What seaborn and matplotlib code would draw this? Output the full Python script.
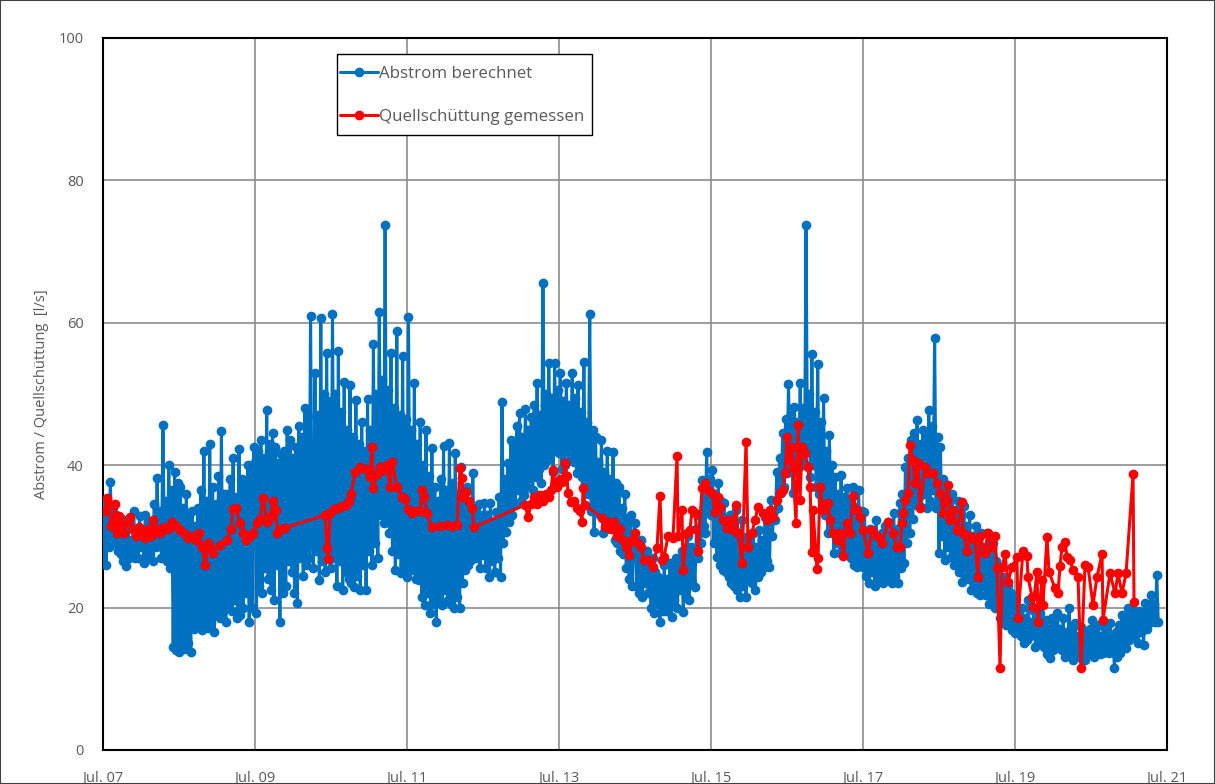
import numpy as np
import matplotlib
matplotlib.use("Agg")
import matplotlib.pyplot as plt
import seaborn as sns
from matplotlib.patches import Rectangle

# Abstrom berechnet: weekly values starting July 2007 (l/s)
abstrom_start = 2007.5
abstrom_per_year = 52
abstrom = [
    # 2007/08
    26.3, 35.0, 26.0, 33.5, 28.5, 37.6, 30.0, 34.0, 29.0, 33.0, 28.0, 31.5, 27.5,
    32.5, 26.5, 30.5, 25.8, 31.0, 27.0, 29.5, 28.0, 33.5, 27.0, 31.0, 27.0, 32.8,
    28.5, 30.5, 26.2, 33.0, 27.0, 32.0, 27.5, 32.0, 26.5, 34.5, 28.5, 38.2, 29.0,
    33.5, 27.0, 45.6, 28.0, 35.0, 26.5, 40.0, 25.5, 36.5, 14.5, 39.0, 14.0, 37.5,
    # 2008/09
    13.8, 37.0, 14.5, 34.0, 14.2, 36.0, 15.0, 33.0, 13.7, 33.5, 17.0, 31.5, 18.0,
    34.0, 17.5, 36.5, 16.8, 42.0, 18.0, 35.0, 17.2, 43.0, 17.8, 37.0, 16.5, 34.5,
    19.0, 38.5, 18.5, 44.8, 19.5, 36.0, 18.0, 36.0, 20.5, 38.0, 19.5, 41.0, 21.0,
    35.5, 18.5, 42.3, 19.0, 38.0, 20.0, 37.5, 22.0, 40.0, 18.0, 39.6, 20.0, 42.5,
    # 2009/10
    40.5, 19.2, 42.0, 23.0, 43.5, 22.0, 41.0, 25.5, 47.8, 24.0, 43.0, 22.5, 44.5,
    21.0, 42.5, 26.0, 40.3, 18.0, 41.5, 22.0, 42.0, 23.0, 45.0, 26.5, 43.5, 25.0,
    41.0, 22.0, 42.5, 20.6, 45.5, 27.0, 44.0, 24.5, 48.0, 26.0, 46.9, 27.0, 61.0,
    30.0, 25.5, 52.9, 28.0, 47.0, 23.9, 60.6, 26.5, 50.0, 25.0, 55.7, 27.0, 49.0,
    # 2010/11
    25.5, 61.3, 27.0, 50.0, 23.0, 56.0, 26.5, 47.5, 22.5, 51.7, 25.0, 45.0, 24.0,
    51.3, 23.5, 44.0, 22.9, 49.2, 24.5, 43.0, 22.5, 46.1, 26.0, 42.0, 22.5, 49.3,
    28.0, 45.0, 26.0, 57.0, 29.0, 50.0, 27.0, 61.5, 33.0, 52.0, 31.9, 73.7, 32.0,
    50.5, 30.5, 55.7, 28.0, 48.0, 25.3, 58.9, 27.5, 47.0, 24.8, 55.3, 26.0, 46.5,
    # 2011/12
    24.3, 60.8, 26.0, 45.0, 25.3, 51.5, 24.0, 43.0, 23.9, 46.0, 21.5, 40.0, 20.4,
    45.0, 22.0, 38.5, 19.2, 42.4, 20.5, 37.0, 18.0, 35.0, 21.0, 38.0, 20.4, 42.7,
    22.5, 36.5, 21.0, 43.1, 20.5, 37.5, 19.9, 41.7, 21.5, 36.0, 19.9, 39.8, 23.5,
    35.0, 25.3, 37.0, 26.0, 33.5, 26.7, 38.9, 27.5, 34.0, 27.0, 34.5, 25.5, 33.0,
    # 2012/13
    27.4, 34.7, 25.5, 33.0, 24.3, 34.7, 26.5, 32.0, 25.0, 33.4, 27.0, 35.5, 24.3,
    48.9, 29.0, 38.0, 30.6, 40.3, 32.0, 43.5, 33.0, 42.4, 34.5, 45.5, 36.5, 47.3,
    35.0, 44.0, 35.8, 47.9, 37.0, 45.0, 38.2, 46.8, 36.5, 48.5, 38.4, 51.5, 39.5,
    47.0, 37.5, 65.6, 40.0, 50.0, 40.7, 54.4, 41.5, 49.5, 39.0, 54.4, 42.0, 50.5,
    # 2013/14
    41.7, 52.9, 39.5, 49.0, 40.0, 51.5, 42.0, 48.5, 41.1, 52.9, 40.5, 49.5, 38.9,
    51.3, 39.0, 47.5, 38.4, 54.5, 37.5, 46.0, 36.0, 61.2, 33.5, 45.0, 30.6, 44.0,
    34.0, 40.5, 33.0, 43.5, 30.5, 39.0, 31.0, 42.0, 32.5, 38.0, 32.0, 41.9, 29.5,
    37.5, 29.0, 36.9, 28.0, 34.0, 27.5, 36.0, 25.5, 32.5, 24.0, 33.0, 23.0, 30.0,
    # 2014/15
    31.9, 23.0, 28.5, 22.0, 29.5, 21.5, 27.5, 23.5, 28.0, 22.0, 25.5, 20.0, 27.0,
    19.2, 25.0, 20.5, 24.3, 18.0, 23.5, 19.5, 26.0, 19.5, 24.0, 20.5, 26.3, 18.7,
    25.5, 21.0, 27.0, 20.0, 26.5, 22.5, 28.0, 19.4, 27.5, 21.5, 30.0, 21.0, 28.5,
    23.5, 27.8, 22.9, 31.0, 27.0, 33.0, 29.0, 37.9, 31.5, 30.5, 41.9, 33.5, 38.0,
    # 2015/16
    33.0, 39.3, 29.0, 36.0, 27.1, 37.5, 26.0, 35.0, 25.3, 34.7, 25.0, 32.0, 24.3,
    33.0, 23.5, 31.5, 23.0, 33.7, 22.5, 30.5, 21.5, 32.3, 23.0, 29.5, 21.5, 30.0,
    24.0, 29.0, 23.4, 30.5, 22.5, 28.5, 24.3, 30.9, 25.0, 29.5, 25.7, 32.7, 26.5,
    31.0, 25.7, 35.1, 30.0, 33.5, 32.3, 39.0, 34.0, 41.0, 36.1, 44.5, 37.0, 46.5,
    # 2016/17
    38.9, 51.4, 40.5, 47.0, 36.1, 48.2, 39.0, 46.0, 39.7, 51.5, 41.0, 48.0, 40.0,
    73.7, 42.0, 50.0, 38.3, 55.6, 40.0, 47.5, 37.0, 54.2, 36.0, 46.0, 35.1, 49.4,
    33.0, 42.0, 30.5, 44.2, 31.5, 40.0, 27.7, 38.3, 29.0, 36.0, 27.7, 38.6, 28.0,
    35.5, 28.5, 36.8, 27.5, 35.0, 27.0, 36.9, 26.0, 34.0, 25.7, 36.5, 26.5, 33.5,
    # 2017/18
    25.7, 33.4, 24.5, 30.5, 23.4, 31.0, 25.0, 29.5, 23.0, 32.3, 24.0, 29.0, 24.3,
    30.5, 23.5, 31.5, 24.3, 32.0, 25.0, 30.0, 23.4, 33.3, 24.5, 31.0, 23.4, 34.7,
    25.5, 36.0, 26.3, 39.7, 29.0, 41.0, 30.5, 43.5, 32.5, 44.5, 34.4, 46.3, 35.5,
    43.0, 34.1, 45.0, 36.0, 44.0, 34.0, 47.8, 35.0, 45.5, 36.5, 57.9, 34.0, 44.0,
    # 2018/19
    27.7, 42.6, 30.0, 38.0, 26.7, 36.5, 28.5, 35.0, 27.1, 36.0, 26.0, 33.5, 26.3,
    35.0, 25.0, 33.0, 23.6, 34.2, 24.5, 31.5, 24.0, 33.0, 22.5, 30.0, 23.0, 31.5,
    22.0, 29.5, 21.8, 30.5, 23.0, 28.5, 21.8, 30.5, 20.5, 28.0, 21.0, 29.0, 20.0,
    26.5, 19.9, 25.7, 18.5, 24.0, 19.0, 24.3, 17.5, 23.0, 18.0, 22.0, 16.8, 21.0,
    # 2019/20
    16.4, 21.0, 17.0, 19.0, 16.0, 20.0, 15.0, 18.5, 15.5, 21.0, 16.0, 18.0, 16.5,
    19.5, 14.5, 18.5, 15.0, 19.2, 15.5, 17.5, 14.5, 18.3, 13.5, 17.0, 12.9, 18.5,
    14.0, 17.5, 14.3, 19.2, 15.0, 17.0, 14.0, 18.5, 13.0, 16.5, 13.6, 20.0, 14.5,
    17.0, 12.6, 17.8, 13.5, 16.0, 13.5, 17.3, 12.8, 16.5, 12.6, 16.5, 13.5, 17.0,
    # 2020/21
    14.0, 18.3, 13.0, 16.5, 14.5, 17.5, 13.5, 16.0, 13.6, 17.3, 14.0, 16.5, 13.6,
    17.8, 14.5, 16.0, 11.5, 16.5, 13.0, 17.5, 13.6, 19.0, 14.5, 18.0, 14.3, 20.0,
    15.5, 18.5, 15.9, 19.7, 16.0, 18.5, 15.0, 19.5, 16.5, 19.0, 14.7, 20.6, 17.0,
    19.5, 17.8, 21.8, 18.5, 20.5, 18.0, 24.6, 18.0,
]

# Quellschüttung gemessen: measurement dates (decimal years) and values (l/s)
quelle_t = [
    2007.526, 2007.553, 2007.579, 2007.605, 2007.632, 2007.658, 2007.684, 2007.711,
    2007.737, 2007.776, 2007.816, 2007.855, 2007.895, 2007.934, 2007.974, 2008.013,
    2008.053, 2008.092, 2008.132, 2008.158, 2008.197, 2008.250, 2008.303, 2008.355,
    2008.408, 2008.461, 2008.513, 2008.566, 2008.618, 2008.671, 2008.724, 2008.763,
    2008.803, 2008.842, 2008.882, 2008.908, 2008.947, 2009.039, 2009.132, 2009.184,
    2009.211, 2009.250, 2009.303, 2009.342, 2009.382, 2009.434, 2009.474, 2009.526,
    2009.566, 2009.605, 2009.658, 2009.697, 2009.737, 2009.776, 2009.789, 2009.842,
    2009.895, 2010.421, 2010.447, 2010.461, 2010.487, 2010.539, 2010.592, 2010.645,
    2010.697, 2010.737, 2010.763, 2010.816, 2010.882, 2010.947, 2011.013, 2011.039,
    2011.053, 2011.105, 2011.145, 2011.184, 2011.237, 2011.276, 2011.303, 2011.368,
    2011.434, 2011.474, 2011.513, 2011.566, 2011.618, 2011.671, 2011.697, 2011.724,
    2011.763, 2011.829, 2011.934, 2012.026, 2012.092, 2012.158, 2012.197, 2012.224,
    2012.237, 2012.276, 2012.316, 2012.355, 2012.382,
    2013.053, 2013.092, 2013.132, 2013.171, 2013.211, 2013.250, 2013.289, 2013.329,
    2013.368, 2013.395, 2013.421, 2013.447, 2013.474, 2013.513, 2013.539, 2013.579,
    2013.605, 2013.618, 2013.658, 2013.697, 2013.737, 2013.776, 2013.803, 2013.816,
    2013.842, 2014.066, 2014.105, 2014.145, 2014.184, 2014.224, 2014.263, 2014.303,
    2014.342, 2014.382, 2014.421, 2014.461, 2014.500, 2014.539, 2014.579, 2014.618,
    2014.671, 2014.737, 2014.789, 2014.829, 2014.855, 2014.882, 2014.934, 2015.000,
    2015.053, 2015.066, 2015.118, 2015.132, 2015.184, 2015.224, 2015.250, 2015.289,
    2015.329, 2015.382, 2015.421, 2015.461, 2015.513, 2015.553, 2015.592, 2015.618,
    2015.658, 2015.711, 2015.750, 2015.789, 2015.829, 2015.855, 2015.908, 2015.961,
    2015.987, 2016.039, 2016.079, 2016.118, 2016.184, 2016.237, 2016.276, 2016.316,
    2016.368, 2016.408, 2016.447, 2016.474, 2016.500, 2016.539, 2016.566, 2016.579,
    2016.618, 2016.645, 2016.671, 2016.697, 2016.737, 2016.776, 2016.803, 2016.829,
    2016.842, 2016.895, 2016.908, 2016.934, 2016.974, 2017.039, 2017.066, 2017.105,
    2017.158, 2017.197, 2017.237, 2017.289, 2017.329, 2017.368, 2017.421, 2017.461,
    2017.500, 2017.566, 2017.618, 2017.684, 2017.750, 2017.829, 2017.895, 2017.947,
    2017.987, 2018.013, 2018.026, 2018.053, 2018.092, 2018.118, 2018.158, 2018.184,
    2018.224, 2018.250, 2018.316, 2018.355, 2018.421, 2018.474, 2018.513, 2018.553,
    2018.605, 2018.618, 2018.645, 2018.684, 2018.737, 2018.803, 2018.816, 2018.868,
    2018.908, 2018.974, 2019.013, 2019.039, 2019.105, 2019.145, 2019.197, 2019.237,
    2019.263, 2019.303, 2019.329, 2019.368, 2019.408, 2019.461, 2019.526, 2019.539,
    2019.605, 2019.658, 2019.671, 2019.724, 2019.737, 2019.789, 2019.803, 2019.855,
    2019.868, 2019.921, 2019.947, 2020.026, 2020.066, 2020.092, 2020.118, 2020.158,
    2020.184, 2020.224, 2020.263, 2020.329, 2020.368, 2020.421, 2020.461, 2020.526,
    2020.579, 2020.645, 2020.658, 2020.750, 2020.816, 2020.855, 2020.908, 2020.961,
    2021.053, 2021.066,
]
quelle_v = [
    33.5, 35.4, 34.5, 31.5, 32.0, 34.5, 30.5, 32.8,
    31.5, 30.5, 32.0, 32.7, 31.0, 30.0, 31.3, 30.5,
    29.8, 31.0, 30.0, 32.3, 31.0, 30.5, 31.3, 31.0,
    32.0, 31.5, 30.9, 30.5, 29.8, 30.0, 29.5, 30.5,
    28.5, 26.0, 29.0, 28.5, 27.6, 28.8, 29.5, 31.0,
    33.8, 34.0, 31.9, 30.5, 29.5, 30.0, 30.5, 31.9,
    32.5, 35.4, 32.0, 32.7, 35.0, 33.7, 30.5, 31.0,
    31.2, 33.0, 28.4, 26.8, 33.3, 33.8, 34.0, 34.2,
    34.4, 35.0, 36.0, 39.0, 39.8, 39.5, 38.3, 42.6,
    36.8, 38.8, 39.8, 39.3, 40.0, 37.0, 40.5, 37.0,
    35.5, 35.2, 33.8, 33.3, 33.5, 33.5, 36.5, 35.5,
    33.3, 31.3, 31.5, 31.6, 31.5, 31.6, 39.6, 38.2,
    35.5, 36.2, 35.0, 34.0, 31.3,
    34.4, 32.7, 34.5, 35.5, 34.5, 35.8, 35.0, 36.0,
    35.5, 36.5, 39.3, 37.5, 37.0, 38.0, 37.6, 40.3,
    38.5, 36.1, 34.8, 35.0, 34.0, 33.5, 32.0, 36.8,
    34.4, 32.6, 31.3, 32.0, 31.0, 32.0, 30.0, 31.0,
    29.5, 28.5, 27.4, 29.5, 30.5, 29.0, 28.5, 26.7,
    26.7, 25.7, 28.4, 35.7, 26.7, 27.1, 30.0, 29.8,
    41.3, 30.0, 33.7, 25.3, 30.5, 30.9, 33.7, 33.3,
    28.0, 36.8, 37.5, 36.5, 36.1, 33.4, 35.5, 34.1,
    32.3, 31.2, 32.3, 30.9, 34.4, 30.5, 26.3, 43.3,
    28.5, 30.5, 32.3, 34.1, 33.3, 32.3, 33.7, 32.7,
    35.1, 36.1, 36.5, 38.9, 44.0, 40.7, 42.6, 39.7,
    31.9, 45.6, 35.1, 42.6, 41.7, 39.7, 37.0, 27.8,
    33.7, 25.4, 27.0, 37.0, 33.7, 34.7, 32.3, 30.5,
    29.5, 30.5, 27.3, 31.9, 30.5, 35.6, 33.7, 32.7,
    30.9, 27.7, 30.9, 30.0, 29.0, 32.0, 30.5, 28.5,
    28.5, 31.9, 33.3, 35.1, 36.1, 42.8, 40.7, 37.5,
    40.3, 34.0, 39.7, 38.9, 38.9, 37.5, 36.1, 33.3,
    35.1, 37.2, 32.3, 33.7, 30.9, 34.8, 30.5, 28.0,
    30.0, 29.5, 24.3, 30.0, 27.7, 30.5, 28.5, 30.0,
    25.6, 11.5, 25.7, 27.5, 23.6, 25.7, 27.1, 18.5,
    28.0, 27.2, 24.3, 21.5, 20.1, 25.0, 18.0, 23.9,
    20.4, 29.9, 25.0, 22.7, 22.0, 25.8, 28.5, 29.2,
    27.1, 26.7, 25.3, 24.3, 11.5, 26.0, 25.7, 20.4,
    24.3, 27.5, 18.3, 24.8, 22.0, 24.8, 22.0, 24.8,
    38.7, 20.8,
]

tick_years = [2007.5, 2009.5, 2011.5, 2013.5, 2015.5, 2017.5, 2019.5, 2021.5]
tick_labels = ["Jul. 07", "Jul. 09", "Jul. 11", "Jul. 13",
               "Jul. 15", "Jul. 17", "Jul. 19", "Jul. 21"]
y_ticks = [0, 20, 40, 60, 80, 100]

abstrom_t = abstrom_start + np.arange(len(abstrom)) / abstrom_per_year

sns.set_theme(style="white")
plt.rcParams["font.family"] = ["Open Sans", "DejaVu Sans"]
text_grey = "#595959"

fig = plt.figure(figsize=(12.15, 7.84), dpi=100)
ax = fig.add_axes([0.0848, 0.0434, 0.8757, 0.9082])

line_kw = dict(marker="o", markersize=7, markeredgewidth=0, linewidth=2.2,
               sort=False, estimator=None)
sns.lineplot(x=abstrom_t, y=abstrom, ax=ax, color="#0070C0",
             label="Abstrom berechnet", zorder=3, **line_kw)
sns.lineplot(x=quelle_t, y=quelle_v, ax=ax, color="#FF0000",
             label="Quellschüttung gemessen", zorder=4, **line_kw)

ax.set_xlim(2007.5, 2021.5)
ax.set_ylim(0, 100)
ax.set_xticks(tick_years)
ax.set_xticklabels(tick_labels)
ax.set_yticks(y_ticks)
ax.grid(True, color="#8c8c8c", linewidth=1.2)
ax.set_axisbelow(True)
for sp in ax.spines.values():
    sp.set_color("black")
    sp.set_linewidth(1.5)
ax.tick_params(axis="both", length=0, labelsize=10.5, labelcolor=text_grey)
ax.tick_params(axis="x", pad=15)
ax.tick_params(axis="y", pad=14)
ax.set_xlabel("")
ax.set_ylabel("Abstrom / Quellschüttung  [l/s]", fontsize=10.5, color=text_grey,
              labelpad=7)

# legend entries without their own frame; a separate box is drawn around them
leg = ax.legend(loc="upper left", bbox_to_anchor=(0.2227, 0.960), frameon=False,
                fontsize=12.2, labelcolor=text_grey, labelspacing=1.57,
                handlelength=2.25, handletextpad=0.05, borderpad=0,
                borderaxespad=0)
leg.set_zorder(6)
ax.add_patch(Rectangle((0.2199, 0.8638), 0.2397, 0.1138, transform=ax.transAxes,
                       facecolor="white", edgecolor="black", linewidth=1.0,
                       zorder=5))

fig.patches.append(Rectangle((0, 0), 1, 1, transform=fig.transFigure,
                             fill=False, edgecolor="#404040", linewidth=1.5))

fig.savefig("out.png", dpi=100)
